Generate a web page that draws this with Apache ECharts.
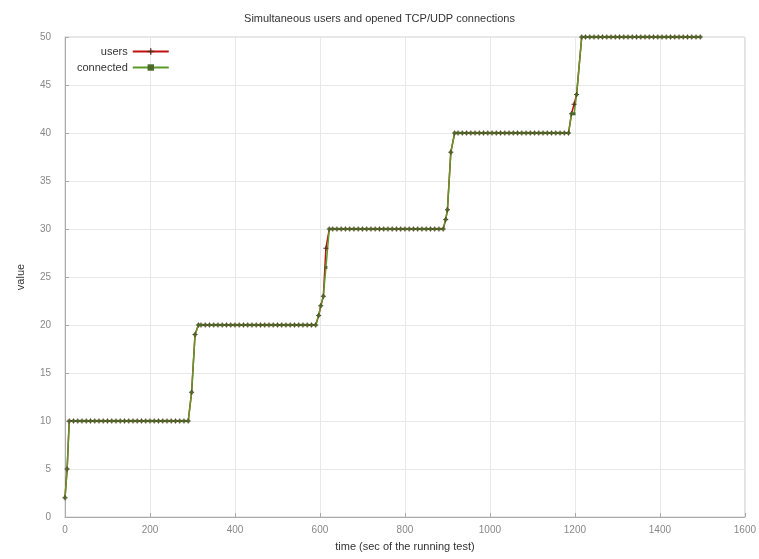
<!DOCTYPE html>
<html><head><meta charset="utf-8">
<script src="https://cdn.jsdelivr.net/npm/echarts@6/dist/echarts.min.js"></script>
<style>html,body{margin:0;padding:0;background:#fff}#c{width:759px;height:559px}</style>
</head><body><div id="c"></div>
<script>
const times = [0,5,10,20,30,40,50,60,70,80,90,100,110,120,130,140,150,160,170,180,190,200,210,220,230,240,250,260,270,280,290,
298,306,314,
320,330,340,350,360,370,380,390,400,410,420,430,440,450,460,470,480,490,500,510,520,530,540,550,560,570,580,590,
597,602,608,614,622,
630,640,650,660,670,680,690,700,710,720,730,740,750,760,770,780,790,800,810,820,830,840,850,860,870,880,890,
896,900,908,917,
925,935,945,955,965,975,985,995,1005,1015,1025,1035,1045,1055,1065,1075,1085,1095,1105,1115,1125,1135,1145,1155,1165,1175,1185,
1192,1198,1204,1216,
1225,1235,1245,1255,1265,1275,1285,1295,1305,1315,1325,1335,1345,1355,1365,1375,1385,1395,1405,1415,1425,1435,1445,1455,1465,1475,1485,1495];
const users = [2,5,10,10,10,10,10,10,10,10,10,10,10,10,10,10,10,10,10,10,10,10,10,10,10,10,10,10,10,10,10,
13,19,20,
20,20,20,20,20,20,20,20,20,20,20,20,20,20,20,20,20,20,20,20,20,20,20,20,20,20,20,20,
21,22,23,28,30,
30,30,30,30,30,30,30,30,30,30,30,30,30,30,30,30,30,30,30,30,30,30,30,30,30,30,30,
31,32,38,40,
40,40,40,40,40,40,40,40,40,40,40,40,40,40,40,40,40,40,40,40,40,40,40,40,40,40,40,
42,43,44,50,
50,50,50,50,50,50,50,50,50,50,50,50,50,50,50,50,50,50,50,50,50,50,50,50,50,50,50,50];
const connected = [2,5,10,10,10,10,10,10,10,10,10,10,10,10,10,10,10,10,10,10,10,10,10,10,10,10,10,10,10,10,10,
13,19,20,
20,20,20,20,20,20,20,20,20,20,20,20,20,20,20,20,20,20,20,20,20,20,20,20,20,20,20,20,
21,22,23,26,30,
30,30,30,30,30,30,30,30,30,30,30,30,30,30,30,30,30,30,30,30,30,30,30,30,30,30,30,
31,32,38,40,
40,40,40,40,40,40,40,40,40,40,40,40,40,40,40,40,40,40,40,40,40,40,40,40,40,40,40,
42,42,44,50,
50,50,50,50,50,50,50,50,50,50,50,50,50,50,50,50,50,50,50,50,50,50,50,50,50,50,50,50];
const xTicks = [0,200,400,600,800,1000,1200,1400,1600];
const yTicks = [0,5,10,15,20,25,30,35,40,45,50];

const plus = 'path://M4,0L6,0L6,4L10,4L10,6L6,6L6,10L4,10L4,6L0,6L0,4L4,4Z';
const chart = echarts.init(document.getElementById('c'));
chart.setOption({
  animation:false,
  backgroundColor:'#fff',
  title:{text:'Simultaneous users and opened TCP/UDP connections',left:'center',top:8,
    textStyle:{fontFamily:'Liberation Sans',fontSize:11,fontWeight:'normal',color:'#333'}},
  legend:{left:72,top:41,orient:'vertical',align:'right',itemWidth:36,itemHeight:8,itemGap:5,
    textStyle:{fontFamily:'Liberation Sans',fontSize:11,color:'#333'},
    data:['users','connected']},
  grid:{left:65,right:14,top:37,bottom:42,show:true,borderColor:'#d0d0d0',borderWidth:1},
  xAxis:{type:'value',min:0,max:1600,interval:200,
    name:'time (sec of the running test)',nameLocation:'middle',nameGap:24,
    nameTextStyle:{fontFamily:'Liberation Sans',fontSize:11,color:'#333'},
    axisLine:{show:true,lineStyle:{color:'#aaa'}},axisTick:{show:true,inside:true,length:4,lineStyle:{color:'#aaa'}},
    axisLabel:{fontFamily:'Liberation Sans',fontSize:10,color:'#888',formatter:v=>xTicks.includes(v)?String(v):''},
    splitLine:{show:true,lineStyle:{color:'#e8e8e8',type:'solid'}}},
  yAxis:{type:'value',min:0,max:50,interval:5,
    name:'value',nameLocation:'middle',nameGap:39,
    nameTextStyle:{fontFamily:'Liberation Sans',fontSize:11,color:'#333'},
    axisLine:{show:true,lineStyle:{color:'#aaa'}},axisTick:{show:true,inside:true,length:4,lineStyle:{color:'#aaa'}},
    axisLabel:{fontFamily:'Liberation Sans',fontSize:10,color:'#888',margin:14,formatter:v=>yTicks.includes(v)?String(v):''},
    splitLine:{show:true,lineStyle:{color:'#e8e8e8',type:'solid'}}},
  series:[
    {name:'users',type:'line',data:times.map((t,i)=>[t,users[i]]),
      symbol:plus,symbolSize:5,showSymbol:true,
      lineStyle:{color:'#c01010',width:1.5},itemStyle:{color:'#5a2a1a'},color:'#c01010'},
    {name:'connected',type:'line',data:times.map((t,i)=>[t,connected[i]]),
      symbol:'rect',symbolSize:3,showSymbol:true,
      lineStyle:{color:'#5d9a2a',width:1.5},itemStyle:{color:'#4a6a2a'},color:'#5d9a2a'}
  ]
});
</script></body></html>
